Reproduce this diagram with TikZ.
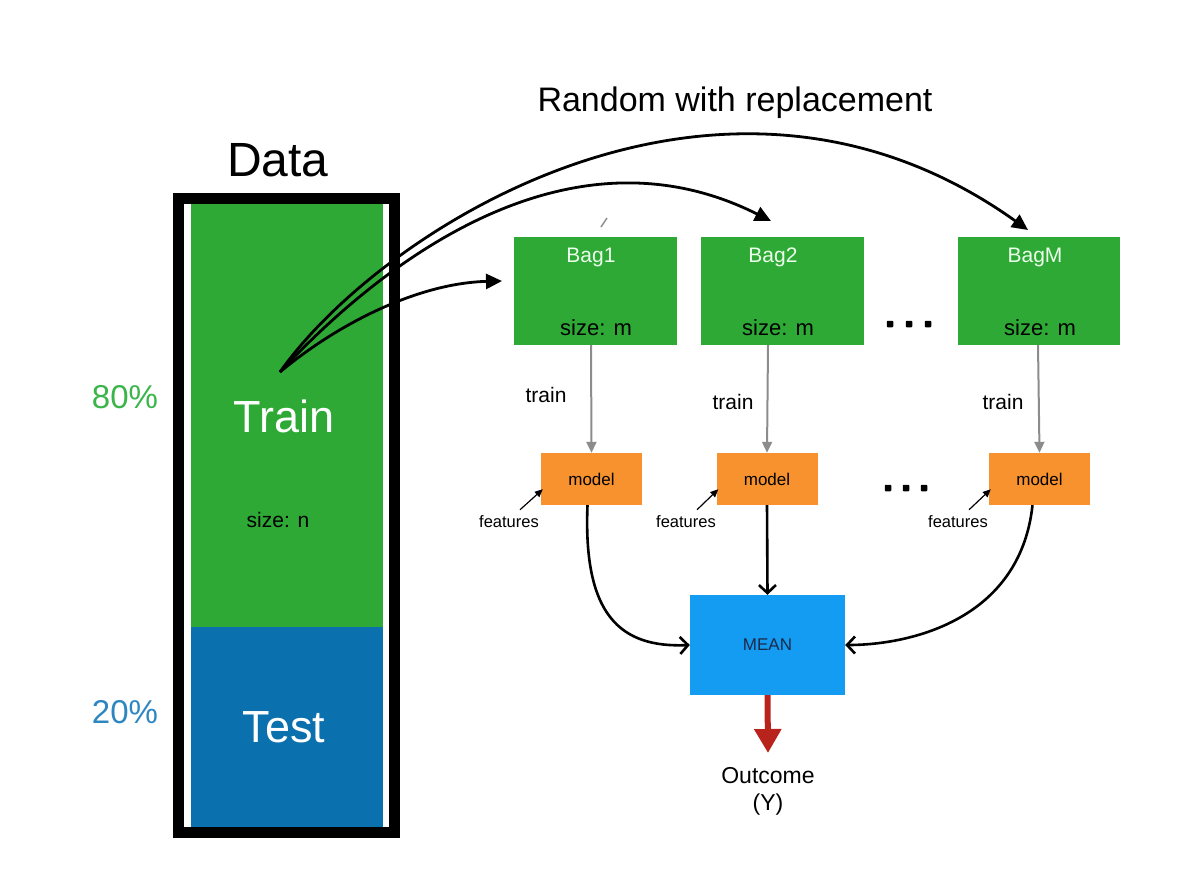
\documentclass[tikz,border=0pt]{standalone}
\usepackage{fontspec}
\setmainfont{Liberation Sans}
\usetikzlibrary{arrows.meta}
\definecolor{trgreen}{HTML}{2EA935}
\definecolor{tsblue}{HTML}{0A70AE}
\definecolor{pctgreen}{HTML}{3AB54A}
\definecolor{pctblue}{HTML}{2E86C1}
\definecolor{morange}{HTML}{F7922E}
\definecolor{meanblue}{HTML}{149CF2}
\definecolor{meantext}{HTML}{1A2A4A}
\definecolor{outred}{HTML}{B8241C}
\definecolor{greyarr}{HTML}{8C8C8C}
\newcommand{\fs}[1]{\fontsize{#1}{#1}\selectfont}
\tikzset{
  bagbox/.style={fill=trgreen, draw=none},
  modelbox/.style={fill=morange, draw=none, minimum width=101pt, minimum height=52pt, inner sep=0pt},
  lbl/.style={inner sep=0pt, anchor=center},
  bigarrow/.style={line width=2.8pt, -{Triangle[length=16pt,width=15pt]}},
  greyarrow/.style={draw=greyarr, line width=2pt, -{Triangle[length=11pt,width=10pt]}},
  featarrow/.style={line width=1.2pt, -{Triangle[length=8pt,width=7pt]}},
  outarrow/.style={line width=2.6pt, -{Straight Barb[length=8pt,width=17pt,line width=2.6pt]}},
  dotsq/.style={fill=black, minimum size=6.5pt, inner sep=0pt, rounded corners=0.8pt},
}
\begin{document}
\begin{tikzpicture}[x=1pt,y=-1pt]
\useasboundingbox (0,0) rectangle (1182,892);
% data column
\fill[trgreen] (191,204) rectangle (383,627);
\fill[tsblue] (191,627) rectangle (383,828);
\draw[line width=11pt] (178.5,198.5) rectangle (394.5,832.5);
\node[lbl] (data) at (278,160) {\fs{48}Data};
\node[lbl, text=white] (train) at (284,416) {\fs{45}Train};
\node[lbl] (sizen) at (278,520) {\fs{21}size: n};
\node[lbl, text=white] (test) at (284,727) {\fs{45}Test};
\node[lbl, text=pctgreen] (p80) at (125,397) {\fs{33}80\%};
\node[lbl, text=pctblue] (p20) at (125,712) {\fs{33}20\%};
\node[lbl] (rwr) at (735,103) {\fs{34}Random with replacement};
% bags
\fill[bagbox] (514,237) rectangle (677,345);
\fill[bagbox] (701,237) rectangle (864,345);
\fill[bagbox] (958,237) rectangle (1120,345);
\node[lbl, text=white!92!green] (b1t) at (591,257) {\fs{21}Bag1};
\node[lbl, text=white!92!green] (b2t) at (773,257) {\fs{21}Bag2};
\node[lbl, text=white!92!green] (bmt) at (1035,257) {\fs{21}BagM};
\node[lbl] (s1) at (596,328) {\fs{22}size: m};
\node[lbl] (s2) at (778,328) {\fs{22}size: m};
\node[lbl] (sm) at (1040,328) {\fs{22}size: m};
\node[dotsq] (d11) at (890,324) {};
\node[dotsq] (d12) at (909,324) {};
\node[dotsq] (d13) at (928,324) {};
\node[dotsq] (d21) at (888,488) {};
\node[dotsq] (d22) at (906,488) {};
\node[dotsq] (d23) at (924,488) {};
\draw[greyarr, line width=1.5pt] (601,227) -- (607,218);
% models
\node[modelbox] (m1) at (591.5,479) {\fs{17}model};
\node[modelbox] (m2) at (767,479) {\fs{17}model};
\node[modelbox] (mm) at (1039.5,479) {\fs{17}model};
\node[lbl] (f1) at (509,522) {\fs{16.5}features};
\node[lbl] (f2) at (686,522) {\fs{16.5}features};
\node[lbl] (fm) at (958,522) {\fs{16.5}features};
\node[lbl] (t1) at (546,395) {\fs{21}train};
\node[lbl] (t2) at (733,402) {\fs{21}train};
\node[lbl] (tm) at (1003,402) {\fs{21}train};
% mean
\node[fill=meanblue, minimum width=155pt, minimum height=100pt, inner sep=0pt, text=meantext] (mean) at (767.5,645) {\fs{17}MEAN};
\node[lbl] (out) at (768,776) {\fs{23}Outcome};
\node[lbl] (outy) at (768,805) {\fs{23}(Y)};
% connectors
\coordinate (src) at (280,372);
\coordinate (e1) at (502,281);
\coordinate (e2) at (771,221);
\coordinate (em) at (1028,230);
\draw[bigarrow] (src) .. controls (340,322) and (420,283) .. (e1);
\draw[bigarrow] (src) .. controls (370,275) and (560,115) .. (e2);
\draw[bigarrow] (src) .. controls (380,230) and (720,10) .. (em);
\draw[greyarrow] (591,345) -- (m1.north);
\draw[greyarrow] (768,345) -- (m2.north);
\draw[greyarrow] (1038,345) -- (mm.north);
\draw[featarrow] ([xshift=11pt,yshift=6pt]f1.north) -- ([xshift=2pt,yshift=16pt]m1.south west);
\draw[featarrow] ([xshift=11pt,yshift=6pt]f2.north) -- ([xshift=2pt,yshift=16pt]m2.south west);
\draw[featarrow] ([xshift=11pt,yshift=6pt]fm.north) -- ([xshift=2pt,yshift=16pt]mm.south west);
\draw[outarrow] ([xshift=-4pt]m1.south) .. controls (583,615) and (620,648) .. (mean.west);
\draw[outarrow] (m2.south) -- (mean.north);
\draw[outarrow] ([xshift=-7pt]mm.south) .. controls (1020,620) and (910,645) .. (mean.east);
\draw[draw=outred, line width=6pt, -{Triangle[length=24pt,width=26pt]}, outred] (mean.south) -- (768,753);
\end{tikzpicture}
\end{document}
